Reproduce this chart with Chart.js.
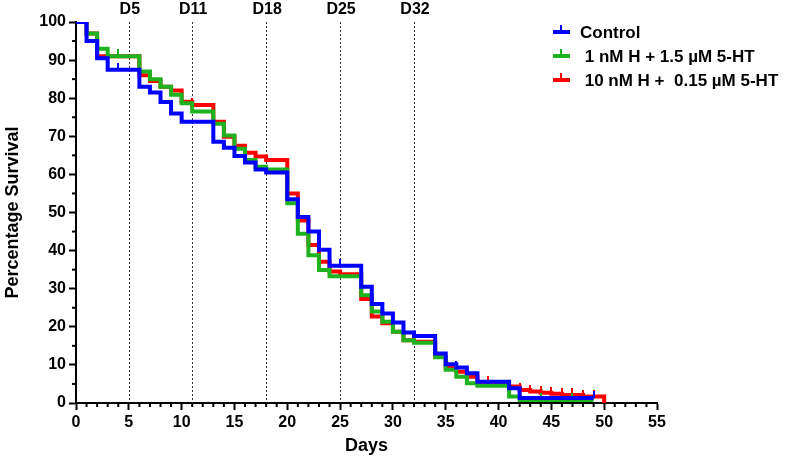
<!DOCTYPE html>
<html>
<head>
<meta charset="utf-8">
<script src="https://cdn.jsdelivr.net/npm/chart.js@4.4.1/dist/chart.umd.min.js"></script>
<style>
  html, body { margin: 0; padding: 0; background: #fff; }
  #wrap { width: 787px; height: 459px; }
</style>
</head>
<body>
<div id="wrap"><canvas id="survivalChart" width="787" height="459"></canvas></div>
<script>
// Kaplan-Meier steps: survival (%) after each day
const controlDays = [0, 1, 2, 3, 6, 7, 8, 9, 10, 13, 14, 15, 16, 17, 18, 20, 21, 22, 23, 24, 27, 28, 29, 30, 31, 32, 34, 35, 36, 37, 38, 41, 42, 49];
const controlSurvival = [100, 95, 90.5, 87.5, 83, 81.5, 79, 76, 73.8, 68.6, 67, 64.8, 63.1, 61.3, 60.5, 53.5, 48.8, 45, 40.2, 36, 30.5, 26, 23.5, 21.1, 18.5, 17.6, 13, 10.2, 9.3, 7.8, 5.6, 3.9, 1.3, 1.3];
const controlCensor = [4, 25, 36, 49];

const lowDoseDays = [0, 1, 2, 3, 6, 7, 8, 9, 10, 11, 13, 14, 15, 16, 17, 18, 20, 21, 22, 23, 24, 27, 28, 29, 30, 31, 32, 34, 35, 36, 37, 38, 41, 42, 49];
const lowDoseSurvival = [100, 97, 93, 91, 87, 85, 83, 80.9, 78.7, 76.5, 73.3, 70.2, 66.7, 63.8, 62, 61.3, 52.4, 44.4, 38.8, 34.9, 33.3, 28.3, 24, 21.3, 18.7, 16.5, 15.8, 12, 8.7, 6.9, 5.2, 4.5, 1.7, 0.8, 0.8];
const lowDoseCensor = [4, 44, 47];

const highDoseDays = [0, 1, 2, 6, 7, 8, 9, 10, 11, 13, 14, 15, 16, 17, 18, 20, 21, 22, 23, 24, 25, 27, 28, 29, 30, 31, 32, 34, 35, 36, 37, 38, 41, 42, 43, 44, 45, 46, 48, 50];
const highDoseSurvival = [100, 97, 91, 86, 84.5, 83, 82, 79.1, 78.2, 73.8, 69.9, 67.5, 65.7, 64.7, 63.8, 55, 47.9, 41.5, 37.1, 34.5, 33.8, 27.3, 22.7, 20.9, 18.7, 16.5, 16.1, 12.2, 9.2, 8.2, 6.9, 5.2, 4.3, 3.4, 3.0, 2.7, 2.4, 2.1, 1.7, 0];
const highDoseCensor = [11, 39, 42, 43, 44, 45, 46, 47, 48, 49];

const seriesLabels = ['Control', ' 1 nM H + 1.5 \u00B5M 5-HT', ' 10 nM H +  0.15 \u00B5M 5-HT'];
const seriesColors = ['#0000FF', '#1FB21F', '#FF0000'];

const milestoneDays = [5, 11, 18, 25, 32];
const milestoneLabels = ['D5', 'D11', 'D18', 'D25', 'D32'];

const FONT = "'Liberation Sans', Arial, sans-serif";

function toPoints(days, values) {
    return days.map((d, i) => ({ x: d, y: values[i] }));
}

function survivalAt(days, values, day) {
    let v = values[0];
    for (let i = 0; i < days.length; i++) {
        if (days[i] <= day) v = values[i];
    }
    return v;
}

function censorPoints(censor, days, values) {
    return censor.map(d => ({ x: d, y: survivalAt(days, values, d) }));
}

// small upward tick used as censor mark
function tickMark(color) {
    const c = document.createElement('canvas');
    c.width = 2;
    c.height = 14;
    const g = c.getContext('2d');
    g.fillStyle = color;
    g.fillRect(0, 0, 2, 7);
    return c;
}

function lineSet(label, days, values, color) {
    return {
        label: label,
        data: toPoints(days, values),
        borderColor: color,
        backgroundColor: color,
        borderWidth: 4,
        stepped: 'before',
        pointRadius: 0,
        fill: false,
        borderCapStyle: 'butt'
    };
}

function censorSet(censor, days, values, color) {
    return {
        label: 'censor',
        data: censorPoints(censor, days, values),
        showLine: false,
        pointStyle: tickMark(color),
        pointRadius: 4,
        borderColor: color,
        backgroundColor: color
    };
}

const extras = {
    id: 'extras',
    beforeDatasetsDraw(chart) {
        const ctx = chart.ctx;
        const x = chart.scales.x;
        const area = chart.chartArea;
        ctx.save();
        ctx.strokeStyle = '#333';
        ctx.lineWidth = 1;
        ctx.setLineDash([2, 2]);
        milestoneDays.forEach(d => {
            const px = Math.round(x.getPixelForValue(d)) + 0.5;
            ctx.beginPath();
            ctx.moveTo(px, area.top);
            ctx.lineTo(px, area.bottom);
            ctx.stroke();
        });
        ctx.setLineDash([]);
        ctx.fillStyle = '#000';
        ctx.font = 'bold 16px ' + FONT;
        ctx.textAlign = 'center';
        ctx.textBaseline = 'middle';
        milestoneDays.forEach((d, i) => {
            ctx.fillText(milestoneLabels[i], x.getPixelForValue(d) + 1, 10);
        });
        ctx.restore();
    },
    afterDraw(chart) {
        const ctx = chart.ctx;
        const x = chart.scales.x;
        const y = chart.scales.y;
        const area = chart.chartArea;
        ctx.save();
        // minor ticks
        ctx.strokeStyle = '#000';
        ctx.lineWidth = 2;
        for (let d = 1; d < 55; d++) {
            if (d % 5 === 0) continue;
            const px = x.getPixelForValue(d);
            ctx.beginPath();
            ctx.moveTo(px, area.bottom);
            ctx.lineTo(px, area.bottom + 4);
            ctx.stroke();
        }
        for (let v = 5; v < 100; v += 10) {
            const py = y.getPixelForValue(v);
            ctx.beginPath();
            ctx.moveTo(area.left, py);
            ctx.lineTo(area.left - 4, py);
            ctx.stroke();
        }
        // legend
        const rows = [32, 56, 80];
        ctx.font = 'bold 17px ' + FONT;
        ctx.textAlign = 'left';
        ctx.textBaseline = 'middle';
        seriesLabels.forEach((label, i) => {
            const cy = rows[i];
            ctx.fillStyle = seriesColors[i];
            ctx.fillRect(553, cy - 2, 17, 4);
            ctx.fillRect(560, cy - 7, 2, 6);
            ctx.fillStyle = '#000';
            ctx.fillText(label, 580, cy + 1);
        });
        ctx.restore();
    }
};

const ctx = document.getElementById('survivalChart').getContext('2d');
new Chart(ctx, {
    type: 'line',
    data: {
        datasets: [
            lineSet(seriesLabels[0], controlDays, controlSurvival, seriesColors[0]),
            censorSet(controlCensor, controlDays, controlSurvival, seriesColors[0]),
            lineSet(seriesLabels[1], lowDoseDays, lowDoseSurvival, seriesColors[1]),
            censorSet(lowDoseCensor, lowDoseDays, lowDoseSurvival, seriesColors[1]),
            lineSet(seriesLabels[2], highDoseDays, highDoseSurvival, seriesColors[2]),
            censorSet(highDoseCensor, highDoseDays, highDoseSurvival, seriesColors[2])
        ]
    },
    options: {
        responsive: false,
        animation: false,
        layout: {
            padding: { top: 22, right: 130, bottom: 0, left: 0 }
        },
        scales: {
            x: {
                type: 'linear',
                min: 0,
                max: 55,
                afterFit: function(scale) { scale.height = 56; },
                ticks: {
                    stepSize: 5,
                    color: '#000',
                    font: { family: FONT, size: 16, weight: 'bold' },
                    padding: 3,
                    maxRotation: 0
                },
                grid: {
                    drawOnChartArea: false,
                    tickLength: 7,
                    tickWidth: 2,
                    tickColor: '#000'
                },
                border: { display: true, color: '#000', width: 2 },
                title: {
                    display: true,
                    text: 'Days',
                    color: '#000',
                    font: { family: FONT, size: 18, weight: 'bold' },
                    padding: { top: 0, bottom: 2 }
                }
            },
            y: {
                min: 0,
                max: 100,
                afterFit: function(scale) { scale.width = 76; },
                ticks: {
                    stepSize: 10,
                    color: '#000',
                    font: { family: FONT, size: 16, weight: 'bold' },
                    padding: 3
                },
                grid: {
                    drawOnChartArea: false,
                    tickLength: 7,
                    tickWidth: 2,
                    tickColor: '#000'
                },
                border: { display: true, color: '#000', width: 2 },
                title: {
                    display: true,
                    text: 'Percentage Survival',
                    color: '#000',
                    font: { family: FONT, size: 18, weight: 'bold' },
                    padding: { top: 2, bottom: 0 }
                }
            }
        },
        plugins: {
            legend: { display: false },
            tooltip: { enabled: false }
        }
    },
    plugins: [extras]
});
</script>
</body>
</html>
